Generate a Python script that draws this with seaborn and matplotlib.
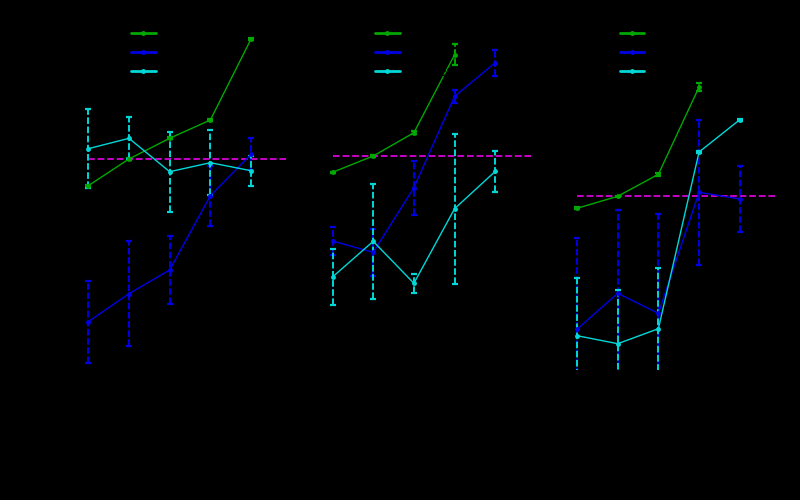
import numpy as np
import pandas as pd
import matplotlib
matplotlib.use("Agg")
import matplotlib.pyplot as plt
import seaborn as sns

# ---------------- data ----------------
x_positions = [0, 1, 2, 3, 4]
panel_names = ["A", "B", "C"]
series_names = ["Series 1", "Series 2", "Series 3"]
series_colors = ["#00a800", "#0000e6", "#00d8d8"]
reference_color = "#d800d8"

# Panel A
a_s1 = [21.43, 24.10, 26.17, 28.00, 36.10]
a_s1_err = [0.10, 0.10, 0.10, 0.13, 0.07]
a_s2 = [7.83, 10.63, 13.00, 20.43, 24.57]
a_s2_err = [4.08, 5.25, 3.38, 3.00, 1.60]
a_s3 = [25.13, 26.17, 22.83, 23.73, 22.93]
a_s3_err = [3.97, 2.10, 4.00, 3.27, 1.50]
a_ref = 24.10

# Panel B
b_s1 = [22.77, 24.40, 26.73, 34.53]
b_s1_err = [0.07, 0.07, 0.13, 1.07]
b_s2 = [15.90, 14.77, 21.23, 30.37, 33.73]
b_s2_err = [1.43, 2.37, 2.70, 0.67, 1.30]
b_s3 = [12.30, 15.87, 11.67, 19.13, 22.87]
b_s3_err = [2.77, 5.77, 0.93, 7.50, 2.05]
b_ref = 24.40

# Panel C
c_s1 = [19.17, 20.37, 22.57, 31.30]
c_s1_err = [0.10, 0.07, 0.15, 0.38]
c_s2 = [7.07, 10.67, 8.67, 20.77, 20.10]
c_s2_err = [9.10, 8.30, 9.90, 7.23, 3.33]
c_s3 = [6.43, 5.63, 7.13, 24.80, 28.03]
c_s3_err = [5.80, 5.37, 6.03, 0.10, 0.10]
c_ref = 20.37

panels = [
    (a_s1, a_s1_err, a_s2, a_s2_err, a_s3, a_s3_err, a_ref),
    (b_s1, b_s1_err, b_s2, b_s2_err, b_s3, b_s3_err, b_ref),
    (c_s1, c_s1_err, c_s2, c_s2_err, c_s3, c_s3_err, c_ref),
]

# ---------------- style ----------------
sns.set_theme(style="dark", rc={
    "figure.facecolor": "black",
    "axes.facecolor": "black",
    "axes.edgecolor": "black",
    "text.color": "black",
    "axes.labelcolor": "black",
    "xtick.color": "black",
    "ytick.color": "black",
    "axes.grid": False,
})
plt.rcParams["font.family"] = ["DejaVu Sans"]

fig = plt.figure(figsize=(8, 5), dpi=100)
lefts = [0.0849, 0.3902, 0.6958]
palette = dict(zip(series_names, series_colors))

for i, (name, pdata) in enumerate(zip(panel_names, panels)):
    ax = fig.add_axes([lefts[i], 0.26, 0.2747, 0.70])
    s1, e1, s2, e2, s3, e3, ref = pdata
    rows = []
    for sname, vals, errs in zip(series_names, (s1, s2, s3), (e1, e2, e3)):
        for xv, v, e in zip(x_positions, vals, errs):
            rows.append({"x": xv, "value": v, "err": e, "series": sname})
    df = pd.DataFrame(rows)

    ax.hlines(ref, 0, 4.9, colors=reference_color, linestyles="--", linewidth=1.3, zorder=1)

    for sname in series_names:
        d = df[df["series"] == sname]
        eb = ax.errorbar(d["x"], d["value"], yerr=d["err"], fmt="none",
                         ecolor=palette[sname], elinewidth=1.4, capsize=2.5,
                         capthick=1.6, zorder=2)
        for lc in eb[2]:
            lc.set_linestyle((0, (3.4, 1.3)))

    sns.lineplot(data=df, x="x", y="value", hue="series", hue_order=series_names,
                 palette=palette, marker="o", markersize=3.5, markeredgewidth=0,
                 linewidth=1.0, ax=ax, sort=False, errorbar=None, zorder=3)

    ax.set_xlim(-0.5, 4.9)
    ax.set_ylim(3, 38)
    ax.set_xlabel("")
    ax.set_ylabel("")
    ax.set_xticks([])
    ax.set_yticks([])
    for sp in ax.spines.values():
        sp.set_visible(False)

    leg = ax.legend(loc="upper left", bbox_to_anchor=(0.261, 0.995),
                    frameon=False, handlelength=1.78, fontsize=10,
                    labelspacing=0.34, borderaxespad=0)
    for ln in leg.get_lines():
        ln.set_linewidth(2.0)
    for t in leg.get_texts():
        t.set_color("black")

fig.savefig("out.png", dpi=100, facecolor="black")
